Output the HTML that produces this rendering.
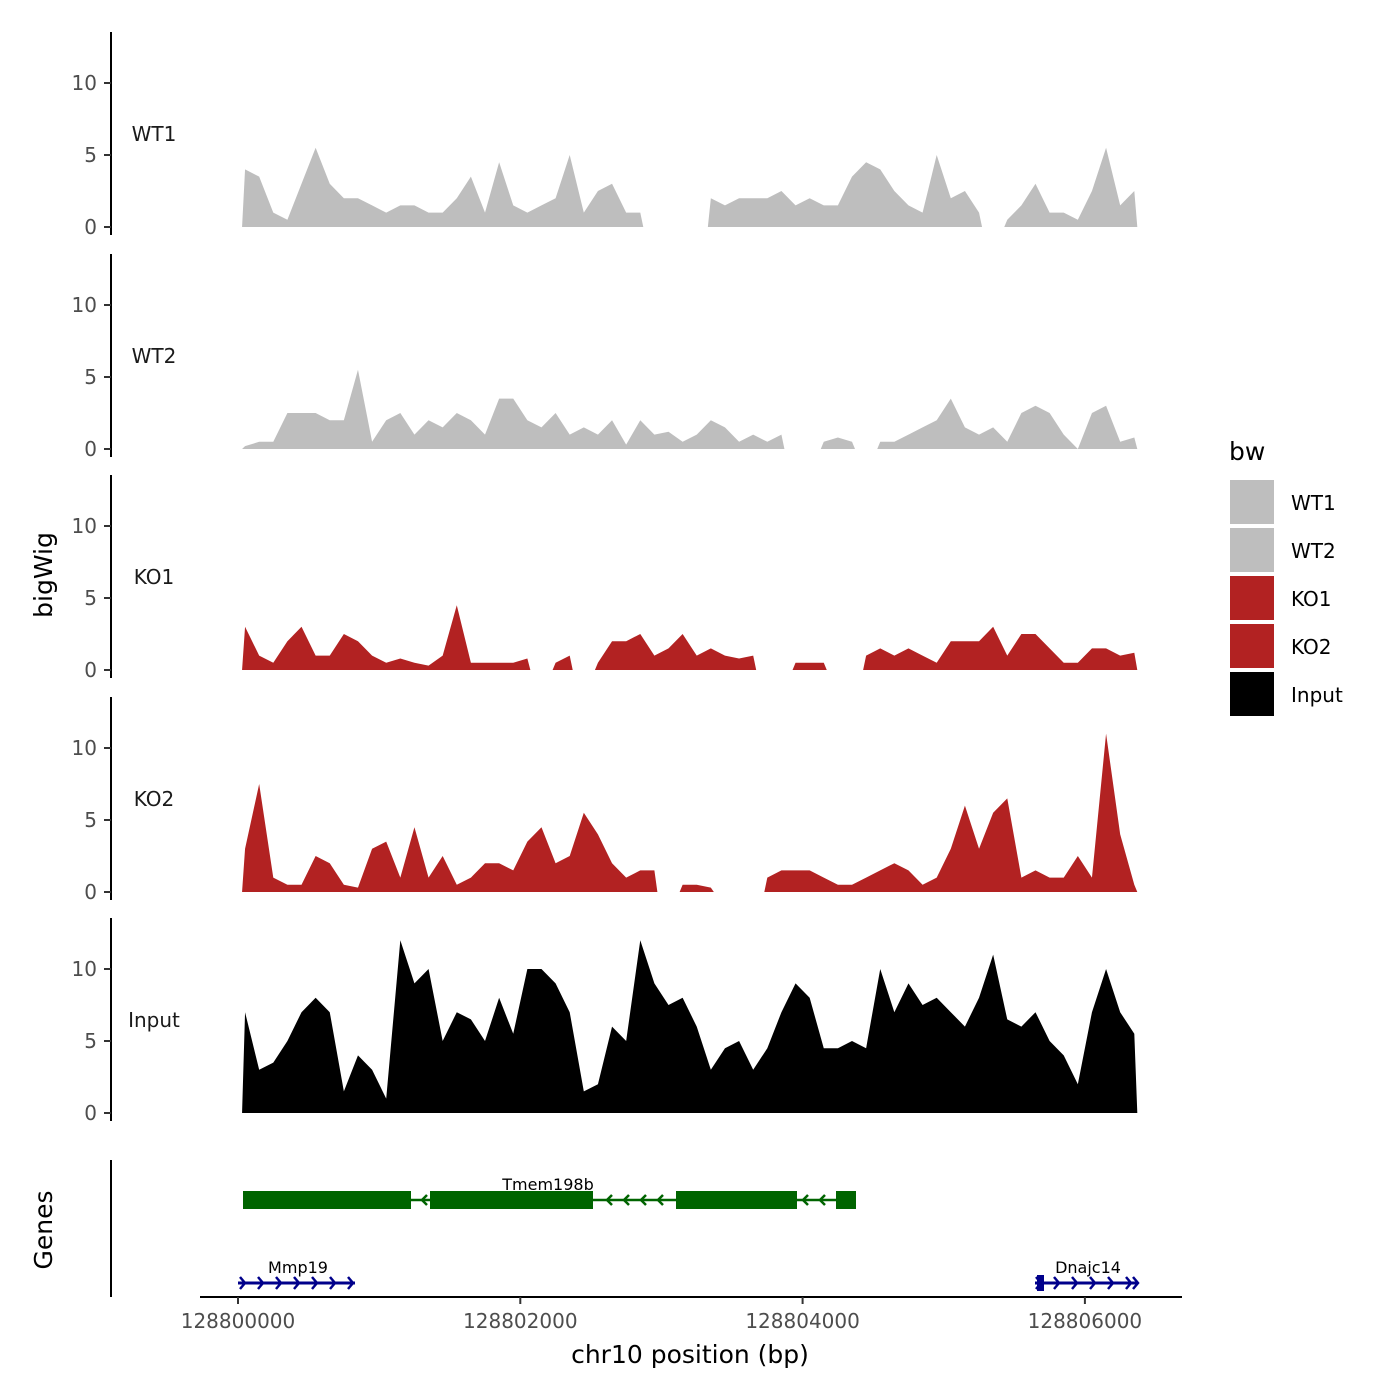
<!DOCTYPE html>
<html><head><meta charset="utf-8"><style>
body{margin:0;background:#fff}
svg{display:block;font-family:"DejaVu Sans","Liberation Sans",sans-serif}
</style></head><body>
<svg id="chart" width="1400" height="1400" viewBox="0 0 1400 1400">
<rect width="1400" height="1400" fill="#fff"/>
<g id="tracks"></g>
<g id="genes"></g>
<g id="xaxis"></g>
<text x="52" y="575" transform="rotate(-90 52 575)" text-anchor="middle" font-size="25" fill="#000">bigWig</text>
<text x="52" y="1230" transform="rotate(-90 52 1230)" text-anchor="middle" font-size="25" fill="#000">Genes</text>
<text x="690" y="1363" text-anchor="middle" font-size="25" fill="#000">chr10 position (bp)</text>
<g id="legend">
<text x="1229" y="460" font-size="25" fill="#000">bw</text>
</g>
</svg>
<script>
const tracks = ["WT1","WT2","KO1","KO2","Input"];
const trackColors = ["#bebebe","#bebebe","#b22222","#b22222","#000000"];
const binStart = 128800050;
const binStep = 100;
const yTicks = [0,5,10];
const xTicks = [128800000,128802000,128804000,128806000];
const n = null;
const wt1 = [4,3.5,1,0.5,3,5.5,3,2,2,1.5,1,1.5,1.5,1,1,2,3.5,1,4.5,1.5,1,1.5,2,5,1,2.5,3,1,1,n,n,n,n,2,1.5,2,2,2,2.5,1.5,2,1.5,1.5,3.5,4.5,4,2.5,1.5,1,5,2,2.5,1,n,0.5,1.5,3,1,1,0.5,2.5,5.5,1.5,2.5];
const wt2 = [0.2,0.5,0.5,2.5,2.5,2.5,2,2,5.5,0.5,2,2.5,1,2,1.5,2.5,2,1,3.5,3.5,2,1.5,2.5,1,1.5,1,2,0.3,2,1,1.2,0.5,1,2,1.5,0.5,1,0.5,1,n,n,0.5,0.8,0.5,n,0.5,0.5,1,1.5,2,3.5,1.5,1,1.5,0.5,2.5,3,2.5,1,0,2.5,3,0.5,0.8];
const ko1 = [3,1,0.5,2,3,1,1,2.5,2,1,0.5,0.8,0.5,0.3,1,4.5,0.5,0.5,0.5,0.5,0.8,n,0.5,1,n,0.5,2,2,2.5,1,1.5,2.5,1,1.5,1,0.8,1,n,n,0.5,0.5,0.5,n,n,1,1.5,1,1.5,1,0.5,2,2,2,3,1,2.5,2.5,1.5,0.5,0.5,1.5,1.5,1,1.2];
const ko2 = [3,7.5,1,0.5,0.5,2.5,2,0.5,0.3,3,3.5,1,4.5,1,2.5,0.5,1,2,2,1.5,3.5,4.5,2,2.5,5.5,4,2,1,1.5,1.5,n,0.5,0.5,0.3,n,n,n,1,1.5,1.5,1.5,1,0.5,0.5,1,1.5,2,1.5,0.5,1,3,6,3,5.5,6.5,1,1.5,1,1,2.5,1,11,4,0.5];
const input = [7,3,3.5,5,7,8,7,1.5,4,3,1,12,9,10,5,7,6.5,5,8,5.5,10,10,9,7,1.5,2,6,5,12,9,7.5,8,6,3,4.5,5,3,4.5,7,9,8,4.5,4.5,5,4.5,10,7,9,7.5,8,7,6,8,11,6.5,6,7,5,4,2,7,10,7,5.5];
const series = [wt1,wt2,ko1,ko2,input];

const NS="http://www.w3.org/2000/svg";
function mk(tag,attrs,parent){const e=document.createElementNS(NS,tag);for(const k in attrs)e.setAttribute(k,attrs[k]);parent.appendChild(e);return e;}
function xScale(bp){return 238+(bp-128800000)*0.14115;}
const panelZero=[227,449,670,892,1113];
function yScale(p,v){return panelZero[p]-v*14.4;}

const tg=document.getElementById('tracks');
tracks.forEach((name,p)=>{
  const g=mk('g',{},tg);
  
  
  const z=panelZero[p];
  const ax=mk('line',{x1:111,x2:111,y1:z-195,y2:z+8,stroke:'#000','stroke-width':2},g);
  
  
  yTicks.forEach(t=>{
    const y=yScale(p,t);
    const tk=mk('line',{x1:104,x2:111,y1:y,y2:y,stroke:'#333','stroke-width':2},g);
    
    
    const tl=mk('text',{x:97,y:y+7,'text-anchor':'end','font-size':20,fill:'#4d4d4d'},g);
    tl.textContent=t;
    
    
  });
  const lab=mk('text',{x:154,y:z-86,'text-anchor':'middle','font-size':20,fill:'#1a1a1a'},g);
  lab.textContent=name;
  
  
  const vals=series[p];let seg=[];
  const flush=()=>{
    if(seg.length){
      let d='M'+(seg[0][0]-3)+','+z;
      seg.forEach(([x,y])=>{d+=' L'+x+','+y;});
      d+=' L'+(seg[seg.length-1][0]+3)+','+z+' Z';
      const a=mk('path',{d:d,fill:trackColors[p]},g);
      
      
    }
    seg=[];
  };
  vals.forEach((v,i)=>{
    if(v===null){flush();return;}
    seg.push([xScale(binStart+binStep*i),yScale(p,v)]);
  });
  flush();
});

const gg=document.getElementById('genes');
mk('line',{x1:111,x2:111,y1:1160,y2:1297,stroke:'#000','stroke-width':2},gg);
const green='#006400',navy='#00008b';
mk('line',{x1:243,x2:856,y1:1200,y2:1200,stroke:green,'stroke-width':2.5},gg);
[[243,411],[430,593],[676,797],[836,856]].forEach(([a,b])=>{
  const r=mk('rect',{x:a,y:1191,width:b-a,height:18,fill:green},gg);
  
  
});
[422,607,624,641,658,803,820].forEach(x=>mk('path',{d:`M${x+5},1195 L${x},1200 L${x+5},1205`,stroke:green,fill:'none','stroke-width':2.5},gg));
const t1=mk('text',{x:548,y:1190,'text-anchor':'middle','font-size':16,fill:'#000'},gg);t1.textContent='Tmem198b';
mk('line',{x1:238,x2:355,y1:1283,y2:1283,stroke:navy,'stroke-width':3},gg);
[244,262,280,298,316,334,352].forEach(x=>mk('path',{d:`M${x-4},1277 L${x+1},1283 L${x-4},1289`,stroke:navy,fill:'none','stroke-width':2.5},gg));
const t2=mk('text',{x:298,y:1273,'text-anchor':'middle','font-size':16,fill:'#000'},gg);t2.textContent='Mmp19';
mk('line',{x1:1035,x2:1137,y1:1283,y2:1283,stroke:navy,'stroke-width':3},gg);
mk('rect',{x:1037,y:1275,width:7,height:16,fill:navy},gg);
[1040,1058,1076,1094,1112,1130,1137].forEach(x=>mk('path',{d:`M${x-4},1277 L${x+1},1283 L${x-4},1289`,stroke:navy,fill:'none','stroke-width':2.5},gg));
const t3=mk('text',{x:1088,y:1273,'text-anchor':'middle','font-size':16,fill:'#000'},gg);t3.textContent='Dnajc14';

const xg=document.getElementById('xaxis');
mk('line',{x1:200,x2:1182,y1:1297,y2:1297,stroke:'#000','stroke-width':2},xg);
xTicks.forEach(t=>{
  const x=xScale(t);
  mk('line',{x1:x,x2:x,y1:1297,y2:1304,stroke:'#333','stroke-width':2},xg);
  const l=mk('text',{x:x,y:1328,'text-anchor':'middle','font-size':20,fill:'#4d4d4d'},xg);
  l.textContent=t;
  
  
});

const lg=document.getElementById('legend');
tracks.forEach((name,i)=>{
  const r=mk('rect',{x:1230,y:480+48*i,width:44,height:44,fill:trackColors[i]},lg);
  
  
  const t=mk('text',{x:1291,y:510+48*i,'font-size':20,fill:'#000'},lg);
  t.textContent=name;
  
  
});
</script>
</body></html>
